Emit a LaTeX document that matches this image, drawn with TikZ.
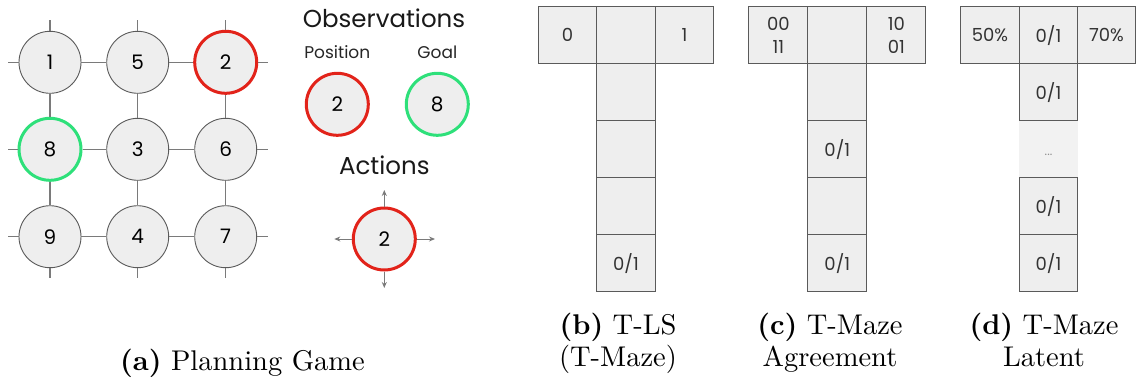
\documentclass[tikz,border=0pt]{standalone}
\usepackage{fontspec}
\newfontfamily\diagfont{Poppins}
\usetikzlibrary{arrows.meta}

\definecolor{cellfill}{HTML}{EEEEEE}
\definecolor{edgegray}{HTML}{7A7A7A}
\definecolor{rimgray}{HTML}{5A5A5A}
\definecolor{posred}{HTML}{E2231A}
\definecolor{goalgreen}{HTML}{2EE07A}

% caption set in 10pt Computer Modern and enlarged to the picture scale
\newcommand\panelcaption[2]{\scalebox{2.85}{\fontsize{10}{11.4}\selectfont
  \begin{tabular}[t]{@{}c@{}}#1\\#2\end{tabular}}}

\tikzset{
  state/.style={circle, draw=rimgray, line width=0.9pt, fill=cellfill,
    minimum size=62pt, inner sep=0pt, text=black,
    font=\diagfont\fontsize{20}{20}\selectfont},
  posstate/.style={state, draw=posred, line width=3pt},
  goalstate/.style={state, draw=goalgreen, line width=3pt},
  link/.style={draw=edgegray, line width=1.1pt},
  move/.style={draw=edgegray, line width=0.9pt, -{Stealth[length=6pt,width=5pt]}},
  cell/.style={rectangle, draw=rimgray, line width=0.9pt, fill=cellfill,
    minimum width=58.5pt, minimum height=57pt, inner sep=0pt, align=center,
    text=black!80, font=\diagfont\fontsize{18}{23}\selectfont},
  widecell/.style={cell, minimum width=59pt},
  gapcell/.style={cell, draw=none, fill=cellfill!75, text=black!45,
    font=\diagfont\fontsize{12}{12}\selectfont},
  heading/.style={text=black!90, font=\diagfont\fontsize{24.5}{24.5}\selectfont},
  sublabel/.style={text=black!85, font=\diagfont\fontsize{17}{17}\selectfont},
  capnode/.style={inner sep=0pt, anchor=base},
}

\begin{document}
\begin{tikzpicture}[x=1pt, y=-1pt]
\useasboundingbox (0,0) rectangle (1141,381);

% ---------------- (a) planning game grid ----------------
\node[state]     (n1) at (50,62.3)    {1};
\node[state]     (n5) at (137.7,62.3) {5};
\node[posstate]  (n2) at (225.7,62.3) {2};
\node[goalstate] (n8) at (50,149.3)   {8};
\node[state]     (n3) at (137.7,149.3){3};
\node[state]     (n6) at (225.7,149.3){6};
\node[state]     (n9) at (50,236.7)   {9};
\node[state]     (n4) at (137.7,236.7){4};
\node[state]     (n7) at (225.7,236.7){7};

% open ends of the grid
\coordinate (w1) at (8,62.3);    \coordinate (e1) at (268,62.3);
\coordinate (w2) at (8,149.3);   \coordinate (e2) at (268,149.3);
\coordinate (w3) at (8,236.7);   \coordinate (e3) at (268,236.7);
\coordinate (t1) at (50,20);     \coordinate (b1) at (50,278);
\coordinate (t2) at (137.7,20);  \coordinate (b2) at (137.7,278);
\coordinate (t3) at (225.7,20);  \coordinate (b3) at (225.7,278);

\draw[link] (n1) -- (n5);  \draw[link] (n5) -- (n2);
\draw[link] (n8) -- (n3);  \draw[link] (n3) -- (n6);
\draw[link] (n9) -- (n4);  \draw[link] (n4) -- (n7);
\draw[link] (n1) -- (n8);  \draw[link] (n8) -- (n9);
\draw[link] (n5) -- (n3);  \draw[link] (n3) -- (n4);
\draw[link] (n2) -- (n6);  \draw[link] (n6) -- (n7);

\draw[link] (w1) -- (n1);  \draw[link] (n2) -- (e1);
\draw[link] (w2) -- (n8);  \draw[link] (n6) -- (e2);
\draw[link] (w3) -- (n9);  \draw[link] (n7) -- (e3);
\draw[link] (t1) -- (n1);  \draw[link] (n9) -- (b1);
\draw[link] (t2) -- (n5);  \draw[link] (n4) -- (b2);
\draw[link] (t3) -- (n2);  \draw[link] (n7) -- (b3);

% observations and actions
\node[heading]  (obs)  at (384,18)      {Observations};
\node[sublabel] (plab) at (337.3,52)    {Position};
\node[sublabel] (glab) at (437.3,52)    {Goal};
\node[posstate] (pos)  at (337.3,104.3) {2};
\node[goalstate](goal) at (437.3,104.3) {8};
\node[heading]  (acts) at (384.3,165.7) {Actions};
\node[posstate] (act)  at (384.3,239)   {2};

\coordinate (aup)    at (384.3,190);
\coordinate (adown)  at (384.3,288);
\coordinate (aleft)  at (334.3,239);
\coordinate (aright) at (435,239);
\draw[move] (act) -- (aup);
\draw[move] (act) -- (adown);
\draw[move] (act) -- (aleft);
\draw[move] (act) -- (aright);

% ---------------- (b) T-LS ----------------
\node[cell] (bl)  at (567.5,35.2)  {0};
\node[cell] (bc)  at (626,35.2)    {};
\node[cell] (br)  at (684.5,35.2)  {1};
\node[cell] (bs1) at (626,92.2)    {};
\node[cell] (bs2) at (626,149.2)   {};
\node[cell] (bs3) at (626,206.2)   {};
\node[cell] (bs4) at (626,263.2)   {0/1};

% ---------------- (c) T-Maze agreement ----------------
\node[widecell] (cl)  at (778.3,35.2)  {00\\11};
\node[widecell] (cc)  at (837.3,35.2)  {};
\node[widecell] (cr)  at (896.3,35.2)  {10\\01};
\node[widecell] (cs1) at (837.3,92.2)  {};
\node[widecell] (cs2) at (837.3,149.2) {0/1};
\node[widecell] (cs3) at (837.3,206.2) {};
\node[widecell] (cs4) at (837.3,263.2) {0/1};

% ---------------- (d) T-Maze latent ----------------
\node[cell]    (dl)  at (990,35.2)    {50\%};
\node[cell]    (dc)  at (1048.5,35.2) {0/1};
\node[cell]    (dr)  at (1106.5,35.2) {70\%};
\node[cell]    (ds1) at (1048.5,92.2) {0/1};
\node[gapcell] (dgap) at (1048.5,149.2) {\vphantom{0}\raisebox{-3pt}{...}};
\node[cell]    (ds3) at (1048.5,206.2) {0/1};
\node[cell]    (ds4) at (1048.5,263.2) {0/1};

% ---------------- captions ----------------
\node[capnode] (capa) at (242.5,370) {\scalebox{2.85}{\fontsize{10}{11.4}\selectfont\textbf{(a)} Planning Game}};
\node[capnode] (capb) at (618,334)   {\panelcaption{\textbf{(b)} T-LS}{(T-Maze)}};
\node[capnode] (capc) at (830,334)   {\panelcaption{\textbf{(c)} T-Maze}{Agreement}};
\node[capnode] (capd) at (1044,334)  {\panelcaption{\textbf{(d)} T-Maze}{Latent}};
\end{tikzpicture}
\end{document}
